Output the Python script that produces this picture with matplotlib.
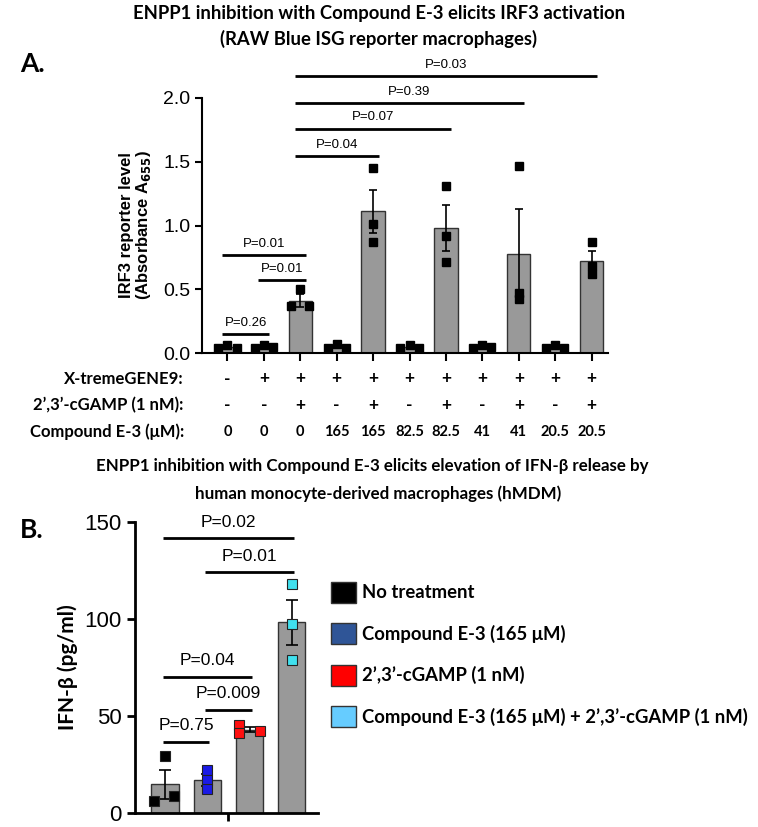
import numpy as np
import matplotlib.pyplot as plt

# ---- panel A data ----
xtreme = ["-", "+", "+", "+", "+", "+", "+", "+", "+", "+", "+"]
cgamp = ["-", "-", "+", "-", "+", "-", "+", "-", "+", "-", "+"]
compound = ["0", "0", "0", "165", "165", "82.5", "82.5", "41", "41", "20.5", "20.5"]
a_means = [0.05, 0.05, 0.41, 0.05, 1.11, 0.05, 0.98, 0.05, 0.78, 0.05, 0.72]
a_sem = [0.01, 0.01, 0.05, 0.01, 0.17, 0.01, 0.18, 0.01, 0.35, 0.01, 0.08]
a_points = [
    [0.04, 0.06, 0.04],
    [0.04, 0.06, 0.05],
    [0.37, 0.50, 0.37],
    [0.04, 0.07, 0.04],
    [1.45, 1.01, 0.87],
    [0.04, 0.06, 0.04],
    [1.31, 0.92, 0.71],
    [0.04, 0.06, 0.05],
    [1.47, 0.47, 0.42],
    [0.04, 0.06, 0.04],
    [0.87, 0.68, 0.62],
]
# (bar i, bar j, height, label)
a_sig = [
    (0, 1, 0.15, "P=0.26"),
    (1, 2, 0.57, "P=0.01"),
    (0, 2, 0.77, "P=0.01"),
    (2, 4, 1.545, "P=0.04"),
    (2, 6, 1.76, "P=0.07"),
    (2, 8, 1.96, "P=0.39"),
    (2, 10, 2.17, "P=0.03"),
]

# ---- panel B data ----
b_labels = ["No treatment", "Compound E-3 (165 \u03bcM)", "2\u2019,3\u2019-cGAMP (1 nM)",
            "Compound E-3 (165 \u03bcM) + 2\u2019,3\u2019-cGAMP (1 nM)"]
b_means = [14.8, 17.0, 43.0, 98.2]
b_sem = [7.5, 3.0, 1.5, 11.5]
b_points = [
    [6.0, 29.5, 9.0],
    [22.0, 17.0, 12.5],
    [45.5, 41.0, 42.5],
    [118.0, 97.5, 79.0],
]
b_sig = [
    (0, 1, 36.7, "P=0.75"),
    (1, 2, 53.0, "P=0.009"),
    (0, 2, 70.0, "P=0.04"),
    (1, 3, 124.0, "P=0.01"),
    (0, 3, 141.6, "P=0.02"),
]

BAR = "#999999"
EDGE = "#333333"
legend_colors = ["#000000", "#2F5597", "#FF0000", "#66CCFF"]
point_colors = ["#000000", "#1A1AE6", "#FF1010", "#40E0EE"]

ARIAL = ["Liberation Sans", "DejaVu Sans"]
CAL = ["Lato", "DejaVu Sans"]

fig = plt.figure(figsize=(7.58, 8.27), dpi=100)
fig.patch.set_facecolor("white")


def style_axes(ax, lab_size):
    for s in ["top", "right"]:
        ax.spines[s].set_visible(False)
    for s in ["left", "bottom"]:
        ax.spines[s].set_linewidth(1.5)
    ax.tick_params(width=1.5, length=5, labelsize=lab_size)
    for t in ax.get_yticklabels():
        t.set_family(ARIAL)


def sig_line(ax, x0, x1, y, label, fs, gap):
    ax.plot([x0, x1], [y, y], color="black", lw=2.0, clip_on=False, solid_capstyle="butt")
    ax.text((x0 + x1) / 2, y + gap, label, ha="center", va="bottom",
            fontsize=fs, family=ARIAL, clip_on=False)


# ================= Panel A =================
axA = fig.add_axes([202 / 758, 1 - 353 / 827, 406 / 758, 255 / 827])
xa = np.arange(len(a_means))
axA.bar(xa, a_means, width=0.64, color=BAR, edgecolor=EDGE, linewidth=1.0, zorder=1)
axA.errorbar(xa, a_means, yerr=a_sem, fmt="none", ecolor="black", elinewidth=1.2,
             capsize=3, capthick=1.2, zorder=2)
for i, pts in enumerate(a_points):
    if a_means[i] < 0.5:
        offs = [-0.25, 0.0, 0.25]
    else:
        offs = [0.0, 0.0, 0.0]
    axA.plot(xa[i] + np.array(offs), pts, "s", color="black", ms=5.5, zorder=3, clip_on=False)

axA.set_xlim(-0.7, 10.45)
axA.set_ylim(0, 2.0)
axA.set_yticks([0.0, 0.5, 1.0, 1.5, 2.0])
axA.set_yticklabels(["0.0", "0.5", "1.0", "1.5", "2.0"])
axA.set_xticks(xa)
axA.set_xticklabels([])
style_axes(axA, 14)
axA.tick_params(axis="x", length=6)

for i, j, h, lab in a_sig:
    sig_line(axA, xa[i] - 0.15, xa[j] + 0.15, h, lab, 9.5, 0.04)

axA.set_ylabel("IRF3 reporter level\n(Absorbance A$_{\\mathbf{655}}$)", fontsize=12,
               fontweight="bold", family=ARIAL, labelpad=7, linespacing=1.05)

trA = axA.get_xaxis_transform()
row_y = [-0.1, -0.203, -0.31]
row_names = ["X-tremeGENE9:", "2\u2019,3\u2019-cGAMP (1 nM):", "Compound E-3 (\u03bcM):"]
for ry, name, vals in zip(row_y, row_names, [xtreme, cgamp, compound]):
    axA.text(-1.2, ry, name, transform=trA, ha="right", va="center", fontsize=12,
             fontweight="bold", family=CAL)
    for k, v in enumerate(vals):
        axA.text(xa[k], ry, v, transform=trA, ha="center", va="center",
                 fontsize=10.5 if name.startswith("Comp") else 12.5,
                 fontweight="bold", family=CAL)

fig.text(0.5, 1 - 14 / 827, "ENPP1 inhibition with Compound E-3 elicits IRF3 activation",
         ha="center", va="center", fontsize=13.3, fontweight="bold", family=CAL)
fig.text(0.5, 1 - 39 / 827, "(RAW Blue ISG reporter macrophages)",
         ha="center", va="center", fontsize=13.3, fontweight="bold", family=CAL)
fig.text(20 / 758, 1 - 64 / 827, "A.", ha="left", va="center", fontsize=19,
         fontweight="bold", family=CAL)

# ================= Panel B =================
axB = fig.add_axes([135 / 758, 1 - 813 / 827, 183 / 758, 291 / 827])
xb = np.arange(len(b_means))
axB.bar(xb, b_means, width=0.64, color=BAR, edgecolor=EDGE, linewidth=1.0, zorder=1)
axB.errorbar(xb, b_means, yerr=b_sem, fmt="none", ecolor="black", elinewidth=1.2,
             capsize=4, capthick=1.2, zorder=2)
b_offs = [[-0.26, 0.0, 0.21], [0.0, 0.0, 0.0], [-0.24, -0.24, 0.24], [0.0, 0.0, 0.0]]
for i, pts in enumerate(b_points):
    axB.plot(xb[i] + np.array(b_offs[i]), pts, "s", color=point_colors[i], mec="#222222",
             mew=0.8, ms=6.5, zorder=3)
axB.set_xlim(-0.71, 3.62)
axB.set_ylim(0, 150)
axB.set_yticks([0, 50, 100, 150])
axB.set_xticks([1.5])
axB.set_xticklabels([])
style_axes(axB, 16)
axB.spines["left"].set_linewidth(2)
axB.spines["bottom"].set_linewidth(2)
axB.tick_params(width=2, length=6)

for i, j, h, lab in b_sig:
    sig_line(axB, xb[i] - 0.05, xb[j] + 0.05, h, lab, 12.5, 4.5)

axB.set_ylabel("IFN-\u03b2 (pg/ml)", fontsize=15, fontweight="bold", family=CAL, labelpad=5)

# legend as colored squares with text
for k, (lab, c) in enumerate(zip(b_labels, legend_colors)):
    yk = 1 - (592 + 41.5 * k) / 827
    fig.patches.append(plt.Rectangle((331 / 758, yk - 10.5 / 827), 25 / 758, 21 / 827,
                                     transform=fig.transFigure, facecolor=c,
                                     edgecolor="#333333", linewidth=1.0))
    fig.text(362 / 758, yk, lab, ha="left", va="center", fontsize=13.3,
             fontweight="bold", family=CAL)

fig.text(372 / 758, 1 - 466 / 827,
         "ENPP1 inhibition with Compound E-3 elicits elevation of IFN-\u03b2 release by",
         ha="center", va="center", fontsize=12.2, fontweight="bold", family=CAL)
fig.text(378 / 758, 1 - 494 / 827, "human monocyte-derived macrophages (hMDM)",
         ha="center", va="center", fontsize=12.2, fontweight="bold", family=CAL)
fig.text(20 / 758, 1 - 530 / 827, "B.", ha="left", va="center", fontsize=19,
         fontweight="bold", family=CAL)

fig.savefig("out.png", dpi=100, facecolor="white")
